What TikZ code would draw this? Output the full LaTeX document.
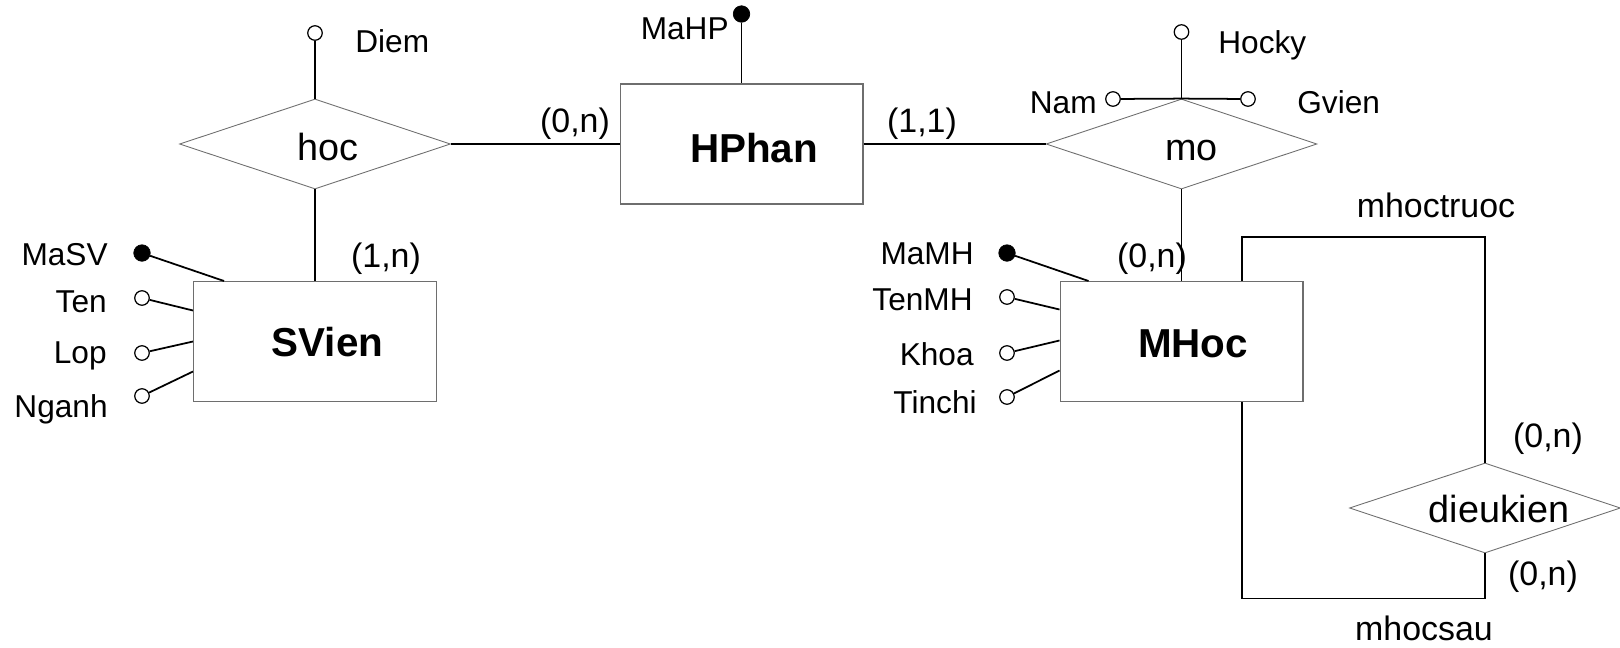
\documentclass[tikz,border=0pt]{standalone}
\usepackage{fontspec}
\setmainfont{Liberation Sans}
\usetikzlibrary{shapes.geometric}
\definecolor{BoxGray}{RGB}{110,110,110}

\begin{document}
\begin{tikzpicture}[x=0.02cm, y=-0.02cm,
    entity/.style={draw=BoxGray, line width=0.6pt, minimum width=4.86cm, minimum height=2.4cm, inner sep=0pt},
    relation/.style={diamond, draw=BoxGray, line width=0.5pt, minimum width=5.42cm, minimum height=1.8cm, inner sep=0pt},
    ename/.style={font=\fontsize{23}{26}\selectfont\bfseries, anchor=base, inner sep=0pt},
    rname/.style={font=\fontsize{21.5}{24}\selectfont, anchor=base, inner sep=0pt},
    card/.style={font=\fontsize{19.3}{22}\selectfont, anchor=base, inner sep=0pt},
    aname/.style={font=\fontsize{18}{20}\selectfont, inner sep=0pt},
    attr/.style={circle, draw, line width=0.7pt, fill=white, minimum size=0.29cm, inner sep=0pt},
    keyattr/.style={circle, draw, fill=black, minimum size=0.33cm, inner sep=0pt},
    link/.style={line width=0.7pt},
    alink/.style={line width=1pt}]
    \useasboundingbox (0,0) rectangle (1620,647);

    % Entities
    \node[entity] (sv) at (315,341.5) {};
    \node[entity] (hp) at (741.5,144) {};
    \node[entity] (mh) at (1181.5,341.5) {};
    \node[ename] (sv-t) at ([shift={(12.5,15)}]sv.center) {SVien};
    \node[ename] (hp-t) at ([shift={(12.5,18)}]hp.center) {HPhan};
    \node[ename] (mh-t) at ([shift={(11.5,15.5)}]mh.center) {MHoc};

    % Relationships
    \node[relation] (hoc) at (315,144) {};
    \node[relation] (mo) at (1181.5,144) {};
    \node[relation] (dk) at (1485,508) {};
    \node[rname] (hoc-t) at ([shift={(12.5,16)}]hoc.center) {hoc};
    \node[rname] (mo-t) at ([shift={(10,16)}]mo.center) {mo};
    \node[rname] (dk-t) at ([shift={(14,14)}]dk.center) {dieukien};

    % Links between entities and relationships
    \draw[link] (hoc.east) -- (hp.west);
    \draw[link] (hp.east) -- (mo.west);
    \draw[link] (hoc.south) -- (sv.north);
    \draw[link] (mo.south) -- (mh.north);
    \draw[line width=0.6pt] ([shift={(60.5,0)}]mh.north) -- ++(0,-44) -| (dk.north);
    \draw[line width=0.6pt] (dk.south) -- ++(0,45) -| ([shift={(60.5,0)}]mh.south);

    % Cardinalities
    \node[card] (c-hp1) at (575,132) {(0,n)};
    \node[card] (c-hp2) at (922,132) {(1,1)};
    \node[card] (c-sv) at (386,267) {(1,n)};
    \node[card] (c-mh) at (1152,267) {(0,n)};
    \node[card] (c-dk1) at (1548,447) {(0,n)};
    \node[card] (c-dk2) at (1543,585) {(0,n)};
    \node[card] (role1) at (1436,217) {mhoctruoc};
    \node[card] (role2) at (1424,640) {mhocsau};

    % Attributes of hoc, HPhan, mo
    \node[attr] (diem) at (315,33) {};
    \node[keyattr] (mahp) at (741.5,14) {};
    \node[attr] (hocky) at (1181.5,32) {};
    \node[attr] (nam) at (1113,99) {};
    \node[attr] (gvien) at (1248,99) {};
    \draw[alink] (diem) -- (hoc.north);
    \draw[alink] (mahp) -- (hp.north);
    \draw[alink] (hocky) -- (mo.north);
    \draw[alink] (nam) -- (mo.north);
    \draw[alink] (gvien) -- (mo.north);
    \node[aname, anchor=base west] (diem-l) at (355,52) {Diem};
    \node[aname, anchor=base east] (mahp-l) at (729,39) {MaHP};
    \node[aname, anchor=base west] (hocky-l) at (1218,53) {Hocky};
    \node[aname, anchor=base east] (nam-l) at (1097,113) {Nam};
    \node[aname, anchor=base west] (gvien-l) at (1297,113) {Gvien};

    % Attributes of SVien
    \node[keyattr] (masv) at (142,253) {};
    \node[attr] (ten) at (142,298) {};
    \node[attr] (lop) at (142,353) {};
    \node[attr] (nganh) at (142,396) {};
    \draw[alink] (masv) -- ([shift={(31,0)}]sv.north west);
    \draw[alink] (ten) -- ([shift={(0,-31)}]sv.west);
    \draw[alink] (lop) -- (sv.west);
    \draw[alink] (nganh) -- ([shift={(0,30)}]sv.west);
    \node[aname, anchor=base east] (masv-l) at (108,265) {MaSV};
    \node[aname, anchor=base east] (ten-l) at (107,312) {Ten};
    \node[aname, anchor=base east] (lop-l) at (107,363) {Lop};
    \node[aname, anchor=base east] (nganh-l) at (108,417) {Nganh};

    % Attributes of MHoc
    \node[keyattr] (mamh) at (1007,253) {};
    \node[attr] (tenmh) at (1007,297) {};
    \node[attr] (khoa) at (1007,353) {};
    \node[attr] (tinchi) at (1007,397) {};
    \draw[alink] (mamh) -- ([shift={(29,0)}]mh.north west);
    \draw[alink] (tenmh) -- ([shift={(0,-32)}]mh.west);
    \draw[alink] (khoa) -- ([shift={(0,-1)}]mh.west);
    \draw[alink] (tinchi) -- ([shift={(0,29)}]mh.west);
    \node[aname, anchor=base east] (mamh-l) at (974,264) {MaMH};
    \node[aname, anchor=base east] (tenmh-l) at (973,310) {TenMH};
    \node[aname, anchor=base east] (khoa-l) at (974,365) {Khoa};
    \node[aname, anchor=base east] (tinchi-l) at (977,413) {Tinchi};
\end{tikzpicture}
\end{document}
